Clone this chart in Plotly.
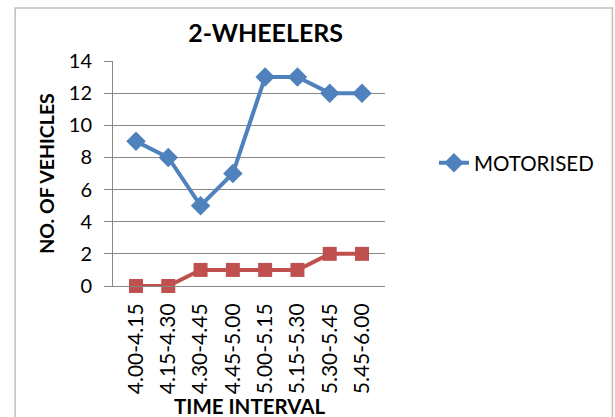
import plotly.graph_objects as go

intervals = ["4.00-4.15", "4.15-4.30", "4.30-4.45", "4.45-5.00",
             "5.00-5.15", "5.15-5.30", "5.30-5.45", "5.45-6.00"]
motorised = [9, 8, 5, 7, 13, 13, 12, 12]
non_motorised = [0, 0, 1, 1, 1, 1, 2, 2]

FONT = "Lato"
grey = "#878787"

fig = go.Figure()
fig.add_trace(go.Scatter(
    x=intervals, y=motorised, name="MOTORISED", mode="lines+markers",
    line=dict(color="#4F81BD", width=4),
    marker=dict(symbol="diamond", size=15, color="#4F81BD"),
    cliponaxis=False,
))
fig.add_trace(go.Scatter(
    x=intervals, y=non_motorised, name="NON-MOTORISED", mode="lines+markers",
    line=dict(color="#C0504D", width=4),
    marker=dict(symbol="square", size=14, color="#C0504D"),
    showlegend=False, cliponaxis=False,
))

fig.update_layout(
    width=615, height=417,
    margin=dict(l=113, r=230, t=61, b=131, autoexpand=False),
    paper_bgcolor="white", plot_bgcolor="white",
    font=dict(family=FONT, color="#000000", size=20),
    title=dict(text="<b>2-WHEELERS</b>", x=0.432, xanchor="center",
               y=0.921, yanchor="middle",
               font=dict(family=FONT, size=25, color="#000000")),
    legend=dict(x=1.18, y=0.547, xanchor="left", yanchor="middle",
                font=dict(family=FONT, size=20.5, color="#000000"),
                bgcolor="rgba(0,0,0,0)"),
    shapes=[dict(type="rect", xref="paper", yref="paper",
                 x0=-0.360, x1=1.836, y0=-0.62, y1=1.236,
                 line=dict(color="#BFBFBF", width=1.5), layer="below")],
    annotations=[dict(text="<b>TIME INTERVAL</b>", xref="paper", yref="paper",
                      x=0.5, y=-0.535, xanchor="center", yanchor="middle",
                      showarrow=False, font=dict(family=FONT, size=20.5, color="#000000"))],
)
fig.update_xaxes(
    type="category", tickangle=-90, showgrid=False, automargin=False,
    showline=True, linecolor=grey, linewidth=1,
    ticks="outside", ticklen=8, tickcolor="rgba(0,0,0,0)",
    tickfont=dict(family=FONT, size=21),
)
fig.update_yaxes(
    range=[0, 14], dtick=2, showgrid=True, gridcolor=grey, gridwidth=1,
    showline=True, linecolor=grey, linewidth=1, zeroline=False, automargin=False,
    ticks="outside", ticklen=8, tickcolor=grey, ticklabelstandoff=8,
    tickfont=dict(family=FONT, size=20),
    title=dict(text="<b>NO. OF VEHICLES</b>", font=dict(family=FONT, size=19.5), standoff=8),
)

fig.write_html("out.html",
               config={"displayModeBar": False},
               post_script="document.body.style.margin='0px';document.body.style.overflow='hidden';")
